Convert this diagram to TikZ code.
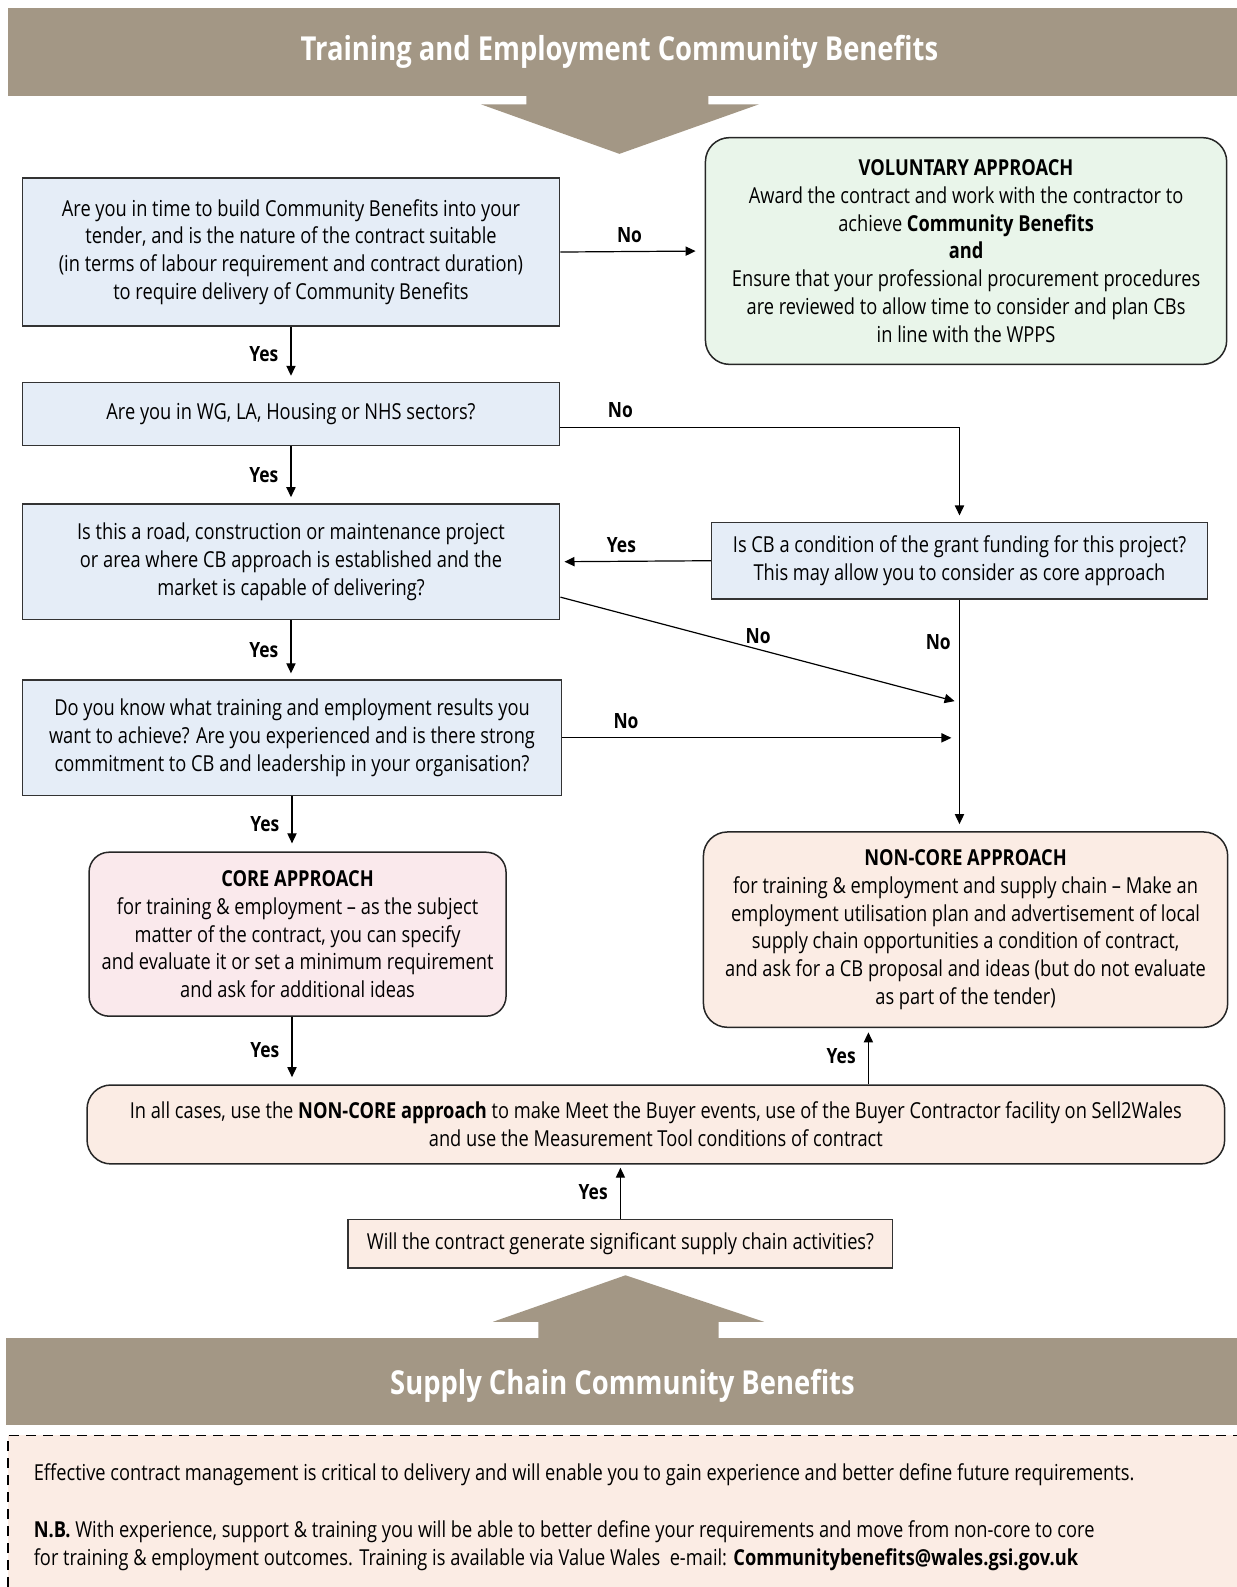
\documentclass[tikz,border=0pt]{standalone}
\usepackage{fontspec}
\setmainfont{Open Sans}[FakeStretch=0.83]
\usetikzlibrary{arrows.meta}
\usetikzlibrary{positioning}
\definecolor{band-taupe}{RGB}{163,151,133}
\definecolor{box-blue}{RGB}{229,237,247}
\definecolor{box-green}{RGB}{233,245,234}
\definecolor{box-pink}{RGB}{250,233,236}
\definecolor{box-peach}{RGB}{251,236,228}
\newlength{\pxu}
\setlength{\pxu}{0.50615pt}

\begin{document}
\begin{tikzpicture}[x=\pxu, y=-\pxu,
    txt/.style={font=\fontsize{11}{13.9}\selectfont, align=center, inner sep=0pt},
    qbox/.style={txt, draw=black!80, line width=0.75pt, fill=box-blue},
    apprbox/.style={txt, draw=black!85, line width=0.75pt, rounded corners=12pt},
    lbl/.style={font=\fontsize{10.5}{12}\selectfont\bfseries, inner sep=0pt},
    flow/.style={-{Triangle[length=5pt,width=4.6pt]}, line width=0.6pt},
    band/.style={fill=band-taupe},
    bandtitle/.style={font=\fontsize{16.5}{19}\selectfont\bfseries, text=white},
    notetxt/.style={txt, font=\fontsize{11}{14}\selectfont, anchor=west}]
\useasboundingbox (0,0) rectangle (1222,1568);

\fill[band] (8,8) rectangle (1222,95);
\fill[band] (520,94) -- (520,103) -- (475,103) -- (612,152) -- (750,103) -- (700,103) -- (700,94) -- cycle;
\node[bandtitle] (toptitle) at (612,51) {Training and Employment Community Benefits};

\node[qbox, minimum width=531*\pxu, minimum height=146*\pxu] (qtime) at (287.5,249)
    {Are you in time to build Community Benefits into your\\ tender, and is the nature of the contract suitable\\ (in terms of labour requirement and contract duration)\\ to require delivery of Community Benefits};
\node[apprbox, fill=box-green, minimum width=515*\pxu, minimum height=224*\pxu] (voluntary) at (954.5,248)
    {\textbf{VOLUNTARY APPROACH}\\ Award the contract and work with the contractor to\\ achieve \textbf{Community Benefits}\\ \textbf{and}\\ Ensure that your professional procurement procedures\\ are reviewed to allow time to consider and plan CBs\\ in line with the WPPS};
\node[qbox, minimum width=531*\pxu, minimum height=62*\pxu] (qsector) at (287.5,409)
    {Are you in WG, LA, Housing or NHS sectors?};
\node[qbox, minimum width=531*\pxu, minimum height=114*\pxu] (qproject) at (287.5,555)
    {Is this a road, construction or maintenance project\\ or area where CB approach is established and the\\ market is capable of delivering?};
\node[qbox, minimum width=490*\pxu, minimum height=76*\pxu] (qgrant) at (948,554)
    {Is CB a condition of the grant funding for this project?\\ This may allow you to consider as core approach};
\node[qbox, minimum width=533*\pxu, minimum height=114*\pxu] (qresults) at (288.5,729)
    {Do you know what training and employment results you\\ want to achieve? Are you experienced and is there strong\\ commitment to CB and leadership in your organisation?};
\node[apprbox, fill=box-pink, rounded corners=10pt, minimum width=412*\pxu, minimum height=162*\pxu] (core) at (294,923)
    {\textbf{CORE APPROACH}\\ for training \& employment -- as the subject\\ matter of the contract, you can specify\\ and evaluate it or set a minimum requirement\\ and ask for additional ideas};
\node[apprbox, fill=box-peach, minimum width=518*\pxu, minimum height=193*\pxu] (noncore) at (954,918.5)
    {\textbf{NON-CORE APPROACH}\\ for training \& employment and supply chain -- Make an\\ employment utilisation plan and advertisement of local\\ supply chain opportunities a condition of contract,\\ and ask for a CB proposal and ideas (but do not evaluate\\ as part of the tender)};
\node[apprbox, fill=box-peach, minimum width=1124*\pxu, minimum height=78*\pxu] (allcases) at (648,1111)
    {In all cases, use the \textbf{NON-CORE approach} to make Meet the Buyer events, use of the Buyer Contractor facility on Sell2Wales\\ and use the Measurement Tool conditions of contract};
\node[qbox, fill=box-peach, minimum width=538*\pxu, minimum height=48*\pxu] (qsupply) at (613,1229)
    {Will the contract generate significant supply chain activities?};

\coordinate (joindiag) at (948,694);
\coordinate (joinflat) at (948,729);
\coordinate (ncfoot) at (858,1016);
\path (qproject.east) ++(0,35) coordinate (diagstart);
\path (qsector.east) ++(0,13) coordinate (sectorout);

\draw[flow, shorten >=9*\pxu] (qtime.east) -- node[lbl, above=8*\pxu, xshift=-3*\pxu] {No} (voluntary.west);
\draw[flow, shorten >=6*\pxu] (qtime.south) -- node[lbl, left=12*\pxu] {Yes} (qsector.north);
\draw[flow, shorten >=6*\pxu] (sectorout) -| (qgrant.north);
\node[lbl] (nosector) at (613,405) {No};
\draw[flow, shorten >=6*\pxu] (qsector.south) -- node[lbl, left=12*\pxu] {Yes} (qproject.north);
\draw[flow, shorten >=4*\pxu] (qgrant.west) -- node[lbl, above=8*\pxu, xshift=-14*\pxu] {Yes} (qproject.east);
\draw[flow, shorten >=7*\pxu] (qgrant.south) -- (qgrant.south |- noncore.north);
\node[lbl] (nogrant) at (927,634) {No};
\draw[flow, shorten >=5*\pxu] (diagstart) -- (joindiag);
\node[lbl] (nodiag) at (749,628) {No};
\draw[flow, shorten >=6*\pxu] (qproject.south) -- node[lbl, left=12*\pxu] {Yes} (qproject.south |- qresults.north);
\draw[flow, shorten >=8*\pxu] (qresults.east) -- node[lbl, above=8*\pxu, pos=0.16] {No} (joinflat);
\draw[flow, shorten >=8*\pxu] (qresults.south) -- node[lbl, left=12*\pxu] {Yes} (qresults.south |- core.north);
\draw[flow, shorten >=7*\pxu] (core.south -| qresults.south) -- node[lbl, left=12*\pxu] {Yes} (qresults.south |- allcases.north);
\draw[flow, shorten >=4*\pxu] (allcases.north -| ncfoot) -- node[lbl, left=12*\pxu] {Yes} (ncfoot);
\draw[flow, shorten >=3*\pxu] (qsupply.north) -- node[lbl, left=12*\pxu] {Yes} (qsupply.north |- allcases.south);

\fill[band] (532,1323) -- (532,1306) -- (487,1306) -- (618,1260) -- (755,1306) -- (710,1306) -- (710,1323) -- cycle;
\fill[band] (6,1322) rectangle (1222,1408);
\node[bandtitle] (bottomtitle) at (615,1369) {Supply Chain Community Benefits};

\fill[box-peach] (8,1418) rectangle (1222,1568);
\draw[dashed, dash pattern=on 5pt off 3.5pt, line width=0.7pt] (8,1568) -- (8,1418) -- (1222,1418);
\node[notetxt] (notemgmt) at (33,1457)
    {Effective contract management is critical to delivery and will enable you to gain experience and better define future requirements.};
\node[notetxt] (notenb) at (33,1513)
    {\textbf{N.B.} With experience, support \& training you will be able to better define your requirements and move from non-core to core};
\node[notetxt] (notemail) at (33,1541)
    {for training \& employment outcomes. Training is available via Value Wales\ \ e-mail: \textbf{Communitybenefits@wales.gsi.gov.uk}};
\end{tikzpicture}
\end{document}
